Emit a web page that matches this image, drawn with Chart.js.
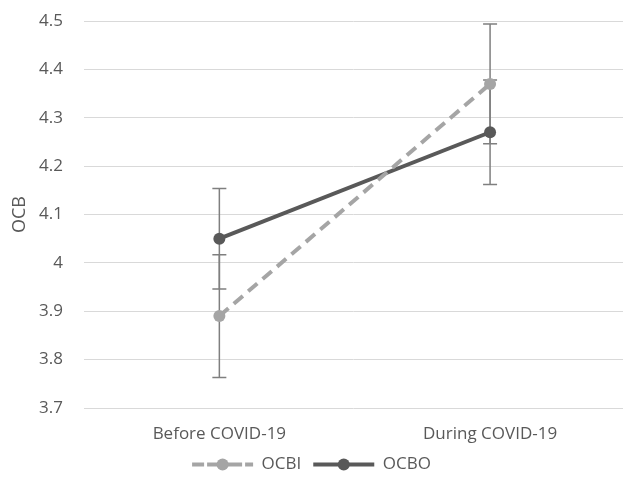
<!DOCTYPE html>
<html>
<head>
<meta charset="utf-8">
<script src="https://cdn.jsdelivr.net/npm/chart.js@4.4.1/dist/chart.umd.min.js"></script>
<style>
  html, body { margin: 0; padding: 0; background: #ffffff; }
  #wrap { width: 623px; height: 485px; position: relative; }
</style>
</head>
<body>
<div id="wrap"><canvas id="c" width="623" height="485"></canvas></div>
<script>
// ---- data ----
const categories = ['Before COVID-19', 'During COVID-19'];
const ocbi = [3.89, 4.37];
const ocbiErr = [0.127, 0.124];
const ocbo = [4.05, 4.27];
const ocboErr = [0.104, 0.108];
const yTickValues = [3.7, 3.8, 3.9, 4.0, 4.1, 4.2, 4.3, 4.4, 4.5];
const yTickLabels = ['3.7', '3.8', '3.9', '4', '4.1', '4.2', '4.3', '4.4', '4.5'];
const seriesNames = ['OCBI', 'OCBO'];

const FONT = '"Open Sans", "Noto Sans", sans-serif';
const TEXT = '#595959';
const colors = ['#a5a5a5', '#595959'];
const FS = 17;

const errorBars = {
  id: 'errorBars',
  beforeDatasetsDraw(chart) {
    const ctx = chart.ctx;
    const xs = chart.scales.x, ys = chart.scales.y;
    const sets = [[ocbi, ocbiErr], [ocbo, ocboErr]];
    ctx.save();
    ctx.strokeStyle = '#7f7f7f';
    ctx.lineWidth = 1.5;
    sets.forEach(([vals, errs]) => {
      vals.forEach((v, i) => {
        const x = xs.getPixelForValue(i);
        const yt = ys.getPixelForValue(v + errs[i]);
        const yb = ys.getPixelForValue(v - errs[i]);
        ctx.beginPath();
        ctx.moveTo(x, yt); ctx.lineTo(x, yb);
        ctx.moveTo(x - 7, yt); ctx.lineTo(x + 7, yt);
        ctx.moveTo(x - 7, yb); ctx.lineTo(x + 7, yb);
        ctx.stroke();
      });
    });
    ctx.restore();
  }
};

const legendDots = {
  id: 'legendDots',
  afterDraw(chart) {
    const lg = chart.legend;
    if (!lg || !lg.legendHitBoxes) return;
    const ctx = chart.ctx;
    const bw = lg.options.labels.boxWidth;
    lg.legendHitBoxes.forEach((hb, i) => {
      ctx.save();
      ctx.fillStyle = colors[i];
      ctx.beginPath();
      ctx.arc(hb.left + bw / 2, hb.top + FS / 2, 6, 0, Math.PI * 2);
      ctx.fill();
      ctx.restore();
    });
  }
};

new Chart(document.getElementById('c'), {
  type: 'line',
  data: {
    datasets: [
      {
        label: seriesNames[0],
        data: ocbi.map((v, i) => ({ x: i, y: v })),
        borderColor: colors[0],
        backgroundColor: colors[0],
        borderWidth: 4,
        borderDash: [12, 7],
        pointRadius: 6,
        pointHoverRadius: 6,
        pointBorderWidth: 0,
        pointBackgroundColor: colors[0]
      },
      {
        label: seriesNames[1],
        data: ocbo.map((v, i) => ({ x: i, y: v })),
        borderColor: colors[1],
        backgroundColor: colors[1],
        borderWidth: 4,
        pointRadius: 6,
        pointHoverRadius: 6,
        pointBorderWidth: 0,
        pointBackgroundColor: colors[1]
      }
    ]
  },
  options: {
    responsive: false,
    animation: false,
    layout: { autoPadding: false, padding: { top: 21, right: 0, bottom: 2, left: 0 } },
    scales: {
      x: {
        type: 'linear',
        min: -0.5,
        max: 1.491,
        afterBuildTicks(scale) {
          scale.ticks = categories.map((c, i) => ({ value: i }));
        },
        afterFit(scale) { scale.height = 36; },
        grid: { display: false, drawTicks: false },
        border: { display: false },
        ticks: {
          padding: 16,
          color: TEXT,
          font: { family: FONT, size: FS },
          maxRotation: 0,
          autoSkip: false,
          callback: (v) => categories[Math.round(v)] ?? ''
        }
      },
      y: {
        min: 3.7,
        max: 4.5,
        afterBuildTicks(scale) {
          scale.ticks = yTickValues.map(v => ({ value: v }));
        },
        afterFit(scale) { scale.width = 84; },
        grid: { color: '#d9d9d9', lineWidth: 1, drawTicks: true, tickLength: 18, tickColor: 'rgba(0,0,0,0)' },
        border: { display: false },
        ticks: {
          padding: 3,
          color: TEXT,
          font: { family: FONT, size: FS },
          callback: (v) => {
            const k = yTickValues.findIndex(t => Math.abs(t - v) < 1e-6);
            return k >= 0 ? yTickLabels[k] : '';
          }
        },
        title: {
          display: true,
          text: 'OCB',
          color: TEXT,
          font: { family: FONT, size: 18 },
          padding: { top: 9, bottom: 0 }
        }
      }
    },
    plugins: {
      tooltip: { enabled: false },
      legend: {
        position: 'bottom',
        maxHeight: 41,
        labels: {
          color: TEXT,
          font: { family: FONT, size: FS },
          boxWidth: 61,
          boxHeight: 0,
          padding: 12,
          generateLabels: (chart) => seriesNames.map((n, i) => ({
            text: n,
            fillStyle: 'rgba(0,0,0,0)',
            strokeStyle: colors[i],
            lineWidth: 4,
            lineDash: i === 0 ? [12, 7] : [],
            fontColor: TEXT,
            datasetIndex: i
          }))
        }
      }
    }
  },
  plugins: [errorBars, legendDots]
});
</script>
</body>
</html>
